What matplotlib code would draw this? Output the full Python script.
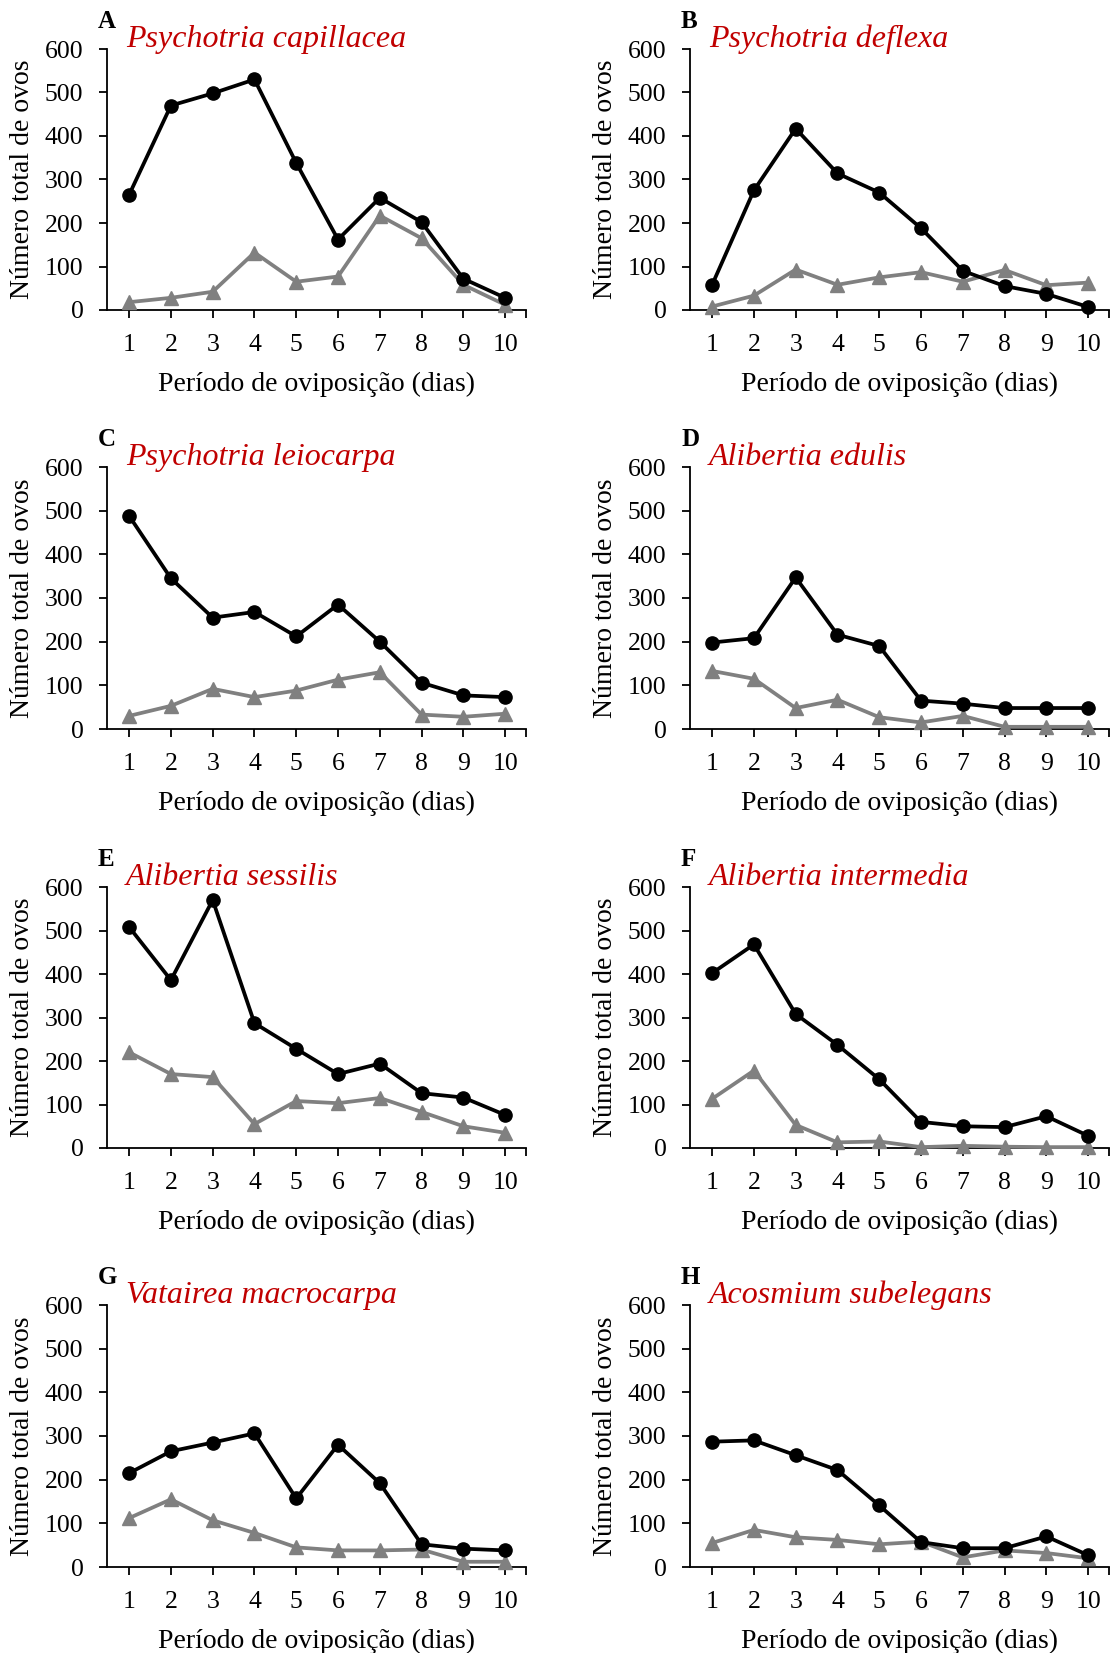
import matplotlib
matplotlib.use('Agg')
import matplotlib.pyplot as plt
import matplotlib.transforms as mtransforms

plt.rcParams['font.family'] = ['Liberation Serif', 'DejaVu Serif']

days = [1, 2, 3, 4, 5, 6, 7, 8, 9, 10]
y_ticks = [0, 100, 200, 300, 400, 500, 600]
letters = ['A', 'B', 'C', 'D', 'E', 'F', 'G', 'H']
species = ['Psychotria capillacea', 'Psychotria deflexa', 'Psychotria leiocarpa',
           'Alibertia edulis', 'Alibertia sessilis', 'Alibertia intermedia',
           'Vatairea macrocarpa', 'Acosmium subelegans']
x_label = 'Período de oviposição (dias)'
y_label = 'Número total de ovos'

black_A = [265, 470, 498, 530, 338, 162, 258, 202, 72, 28]
gray_A = [18, 28, 42, 132, 65, 77, 217, 165, 58, 12]
black_B = [58, 275, 417, 314, 270, 188, 90, 55, 37, 7]
gray_B = [8, 33, 93, 58, 75, 87, 65, 92, 57, 63]
black_C = [488, 345, 255, 268, 212, 285, 200, 106, 77, 73]
gray_C = [30, 53, 92, 73, 88, 113, 130, 33, 28, 35]
black_D = [198, 208, 347, 216, 190, 65, 58, 48, 48, 48]
gray_D = [133, 115, 48, 67, 27, 15, 30, 5, 5, 5]
black_E = [508, 386, 570, 287, 228, 170, 194, 126, 116, 76]
gray_E = [220, 170, 163, 55, 108, 103, 115, 83, 50, 35]
black_F = [402, 468, 308, 237, 158, 60, 50, 48, 73, 28]
gray_F = [113, 178, 53, 13, 15, 2, 5, 3, 2, 2]
black_G = [215, 265, 285, 306, 157, 280, 192, 52, 42, 38]
gray_G = [112, 155, 107, 78, 45, 38, 38, 40, 12, 12]
black_H = [287, 290, 256, 222, 141, 57, 43, 43, 70, 27]
gray_H = [55, 85, 68, 62, 52, 58, 22, 38, 32, 20]

black_series = [black_A, black_B, black_C, black_D, black_E, black_F, black_G, black_H]
gray_series = [gray_A, gray_B, gray_C, gray_D, gray_E, gray_F, gray_G, gray_H]

W, H = 1111, 1653
fig = plt.figure(figsize=(W / 100, H / 100), dpi=100)

# axes boxes in pixels
col_x = [(107, 526), (690, 1109)]
row_y = [(49, 310), (467, 729), (887, 1148), (1305, 1567)]
ylabel_px = [23, 605]

for i in range(8):
    r, c = divmod(i, 2)
    x0, x1 = col_x[c]
    y0, y1 = row_y[r]
    aw, ah = x1 - x0, y1 - y0
    ax = fig.add_axes([x0 / W, 1 - y1 / H, aw / W, ah / H])
    ax.plot(days, gray_series[i], color='#808080', lw=2.7, marker='^', ms=10,
            clip_on=False, zorder=3)
    ax.plot(days, black_series[i], color='black', lw=2.7, marker='o', ms=9.5,
            clip_on=False, zorder=4)
    ax.set_xlim(0.47, 10.5)
    ax.set_ylim(0, 600)
    ax.set_xticks(days)
    ax.set_xticks([10.5], minor=True)
    ax.set_yticks(y_ticks)
    ax.spines['top'].set_visible(False)
    ax.spines['right'].set_visible(False)
    ax.spines['left'].set_linewidth(1.3)
    ax.spines['bottom'].set_linewidth(1.3)
    ax.tick_params(axis='both', which='both', direction='out', length=5.5, width=1.3,
                   labelsize=18.5)
    ax.tick_params(axis='x', pad=12)
    ax.tick_params(axis='y', pad=11.5)
    ax.set_xlabel(x_label, fontsize=20)
    ax.set_ylabel(y_label, fontsize=20)
    ax.xaxis.set_label_coords(0.5, -74 / ah)
    ax.yaxis.set_label_coords((ylabel_px[c] - x0) / aw, 0.5)
    ax.xaxis.label.set_va('center')
    ax.yaxis.label.set_va('center')
    trans = mtransforms.blended_transform_factory(ax.transData, ax.transAxes)
    ax.text(0.93, 1.008, species[i], transform=trans, fontsize=23,
            style='italic', color='#C00000', ha='left', va='baseline')
    ax.text(-9 / aw, 1 + 21 / ah, letters[i], transform=ax.transAxes, fontsize=18,
            fontweight='bold', ha='left', va='baseline')

fig.savefig('out.png', dpi=100)
